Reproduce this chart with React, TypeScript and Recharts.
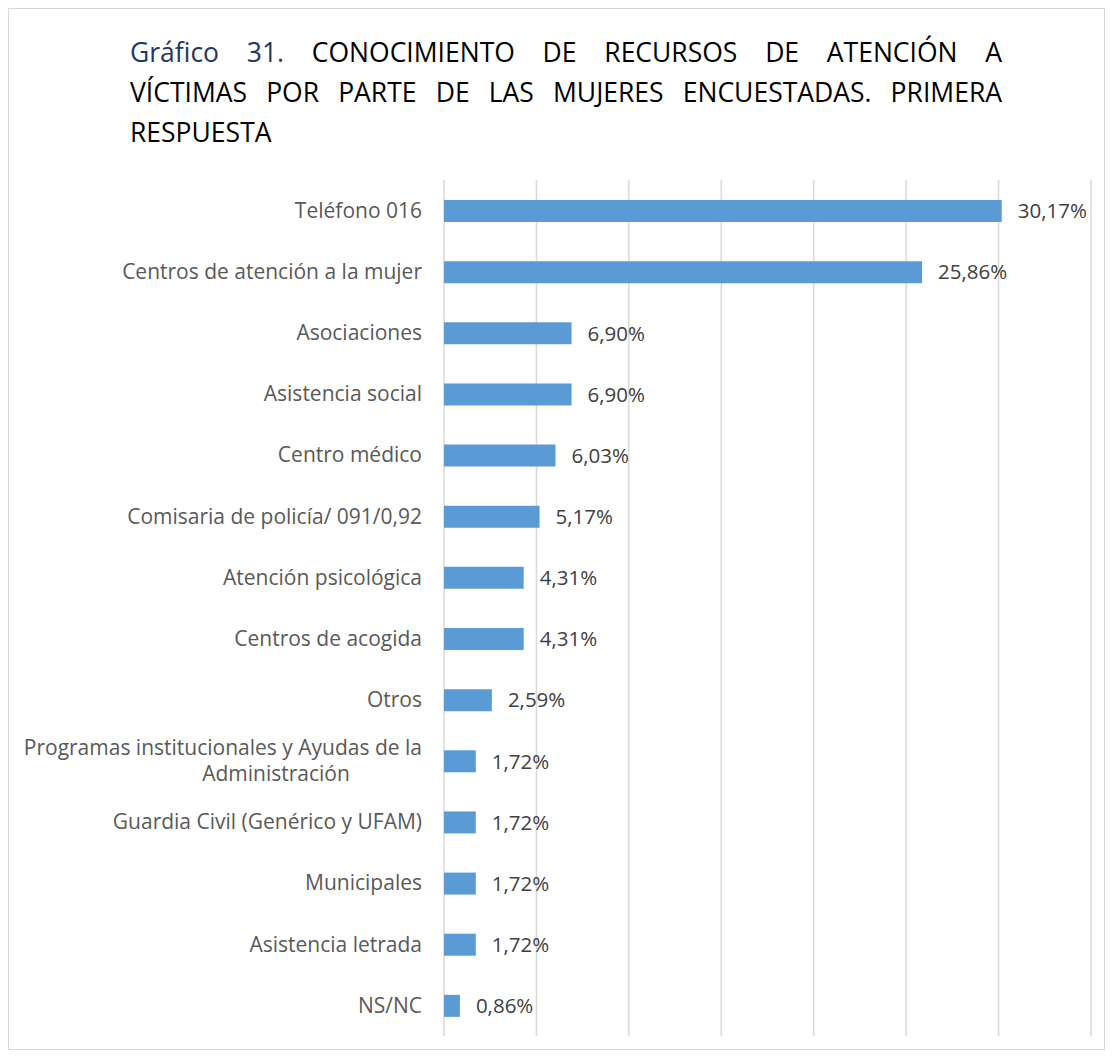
import { BarChart, Bar, XAxis, YAxis, CartesianGrid, LabelList } from 'recharts';

const categories = [
  'Teléfono 016',
  'Centros de atención a la mujer',
  'Asociaciones',
  'Asistencia social',
  'Centro médico',
  'Comisaria de policía/ 091/0,92',
  'Atención psicológica',
  'Centros de acogida',
  'Otros',
  'Programas institucionales y Ayudas de la Administración',
  'Guardia Civil (Genérico y UFAM)',
  'Municipales',
  'Asistencia letrada',
  'NS/NC',
];

const values = [30.17, 25.86, 6.9, 6.9, 6.03, 5.17, 4.31, 4.31, 2.59, 1.72, 1.72, 1.72, 1.72, 0.86];

const xTicks = [0, 5, 10, 15, 20, 25, 30, 35];

const data = categories.map((name, i) => ({ name, value: values[i] }));

const FONT = '"Open Sans", sans-serif';

const pct = (v: number) => v.toFixed(2).replace('.', ',') + '%';

function CategoryTick(props: any) {
  const { x, y, payload } = props;
  const label: string = payload.value;
  const style = { fontFamily: FONT, fontSize: 21, fill: '#595959' };
  if (label.startsWith('Programas')) {
    return (
      <g>
        <text x={x} y={y - 13} dy="0.35em" textAnchor="end" style={style}>
          Programas institucionales y Ayudas de la
        </text>
        <text x={x - 146} y={y + 13} dy="0.35em" textAnchor="middle" style={style}>
          Administración
        </text>
      </g>
    );
  }
  return (
    <text x={x} y={y} dy="0.35em" textAnchor="end" style={style}>
      {label}
    </text>
  );
}

const lineStyle: React.CSSProperties = {
  textAlign: 'justify',
  textAlignLast: 'justify',
  whiteSpace: 'nowrap',
  height: 40,
};

export default function App() {
  return (
    <div
      style={{
        position: 'relative',
        width: 1095,
        height: 1040,
        border: '1px solid #d9d9d9',
        background: '#fff',
        fontFamily: FONT,
      }}
    >
      <div
        style={{
          position: 'absolute',
          left: 121,
          top: 23,
          width: 872,
          fontSize: 26.5,
          lineHeight: '40px',
          color: '#000',
        }}
      >
        <div style={lineStyle}>
          <span style={{ color: '#1f3864' }}>Gráfico 31.</span> CONOCIMIENTO DE RECURSOS DE ATENCIÓN A
        </div>
        <div style={lineStyle}>VÍCTIMAS POR PARTE DE LAS MUJERES ENCUESTADAS. PRIMERA</div>
        <div style={{ height: 40 }}>RESPUESTA</div>
      </div>
      <BarChart
        width={1095}
        height={1040}
        data={data}
        layout="vertical"
        margin={{ top: 171, right: 13, bottom: 13, left: 0 }}
        barCategoryGap={0}
      >
        <CartesianGrid horizontal={false} stroke="#d9d9d9" strokeWidth={1.5} />
        <XAxis type="number" domain={[0, 35]} ticks={xTicks} hide />
        <YAxis
          type="category"
          dataKey="name"
          width={435}
          axisLine={false}
          tickLine={false}
          tick={<CategoryTick />}
          tickMargin={16}
          interval={0}
        />
        <Bar dataKey="value" fill="#5b9bd5" barSize={22} isAnimationActive={false}>
          <LabelList
            dataKey="value"
            position="right"
            offset={16}
            formatter={(v: any) => pct(Number(v))}
            style={{ fontFamily: FONT, fontSize: 20.5, fill: '#404040' }}
          />
        </Bar>
      </BarChart>
    </div>
  );
}
